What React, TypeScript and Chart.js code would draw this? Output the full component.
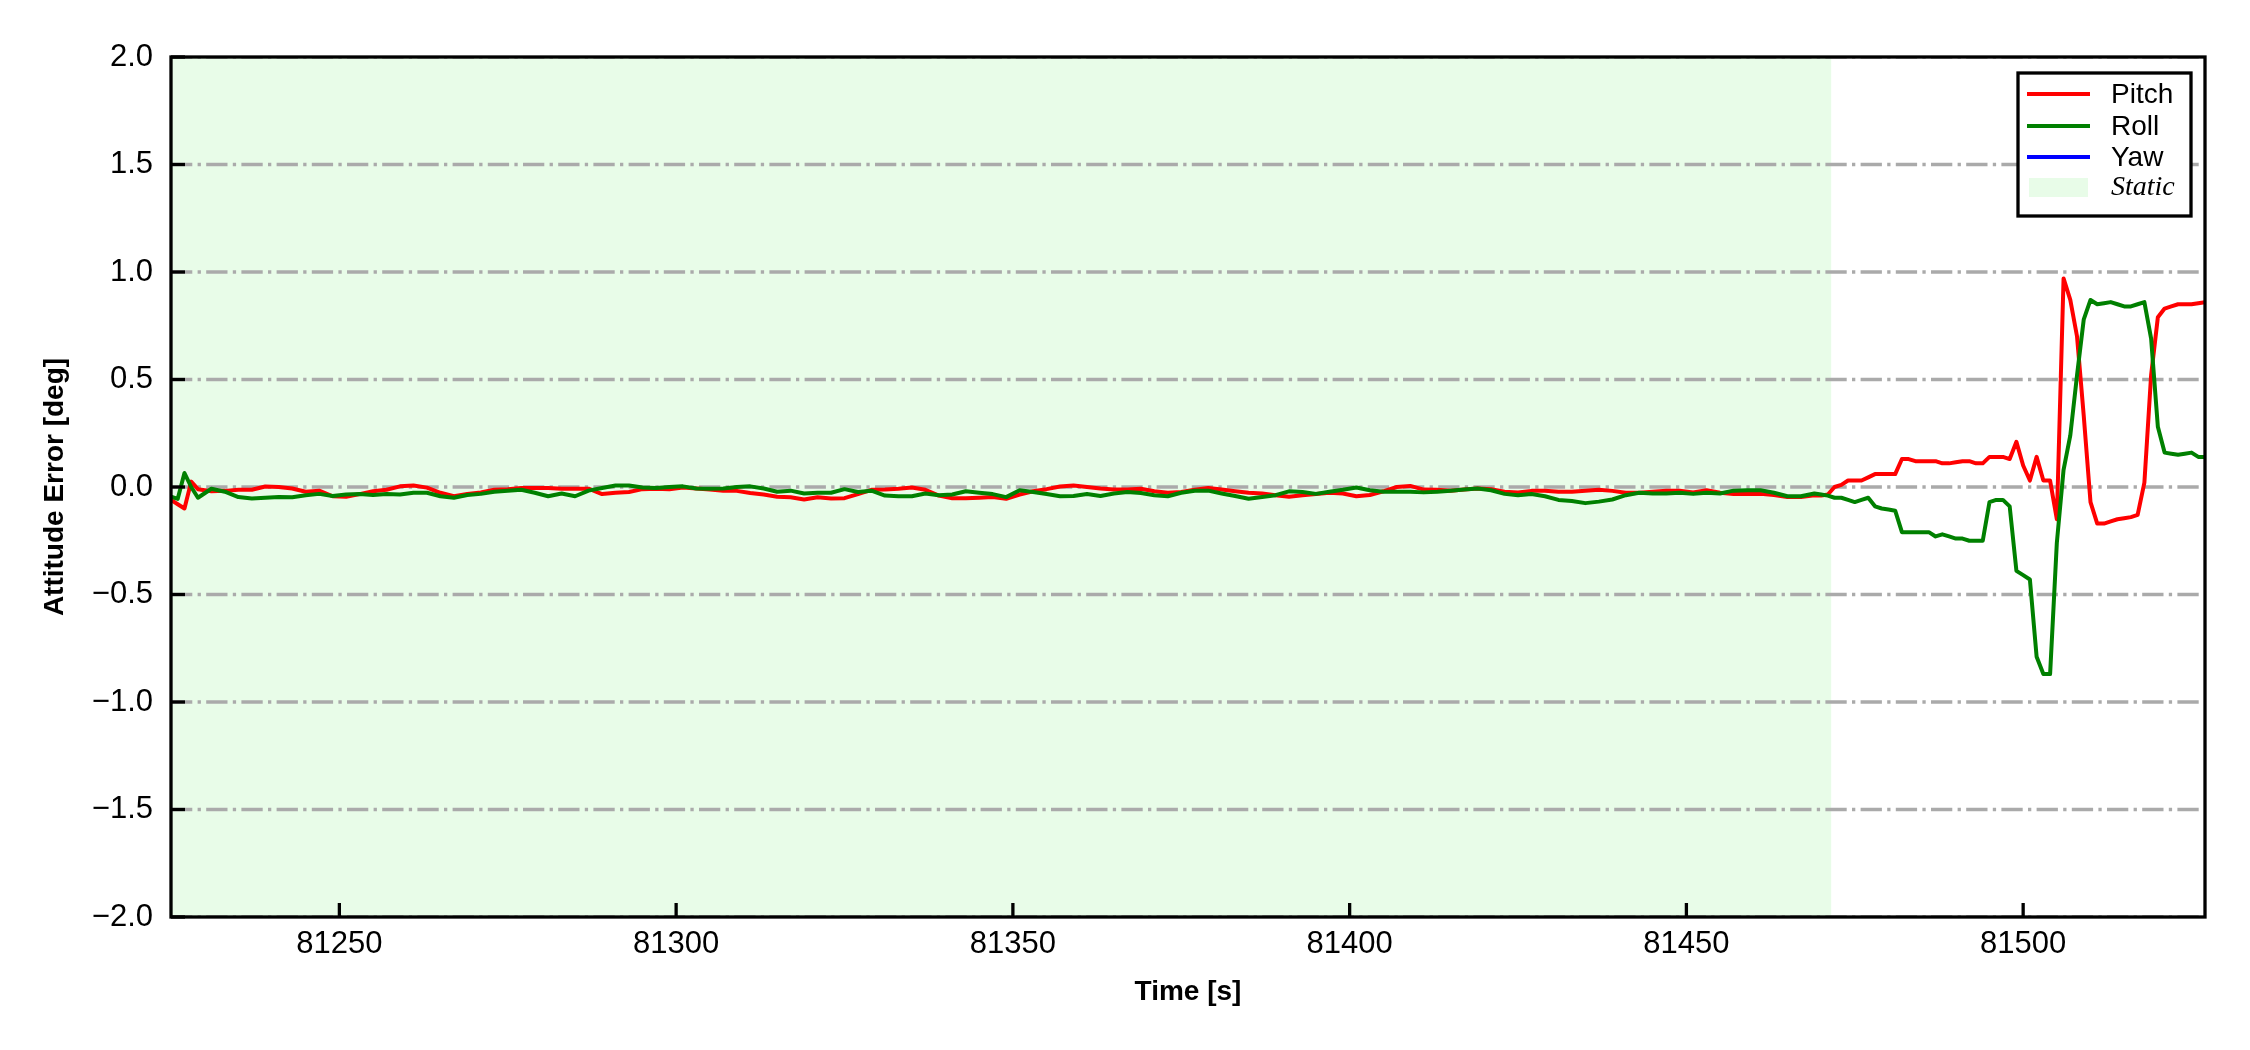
import React, { useEffect, useRef } from "react";
import { Chart, registerables } from "chart.js";

Chart.register(...registerables);

// ---------- data ----------
const X_MIN = 81225;
const X_MAX = 81527;
const X_TICKS = [81250, 81300, 81350, 81400, 81450, 81500];
const Y_TICKS = [-2.0, -1.5, -1.0, -0.5, 0.0, 0.5, 1.0, 1.5, 2.0];
const STATIC_START = 81225;
const STATIC_END = 81471.5;

const SERIES_NAMES = ["Pitch", "Roll", "Yaw"];
const STATIC_LABEL = "Static";

// segment 1: 1 s sampling from 81225
const START_T0 = 81225;
const START_DT = 1;
const PITCH_START = [-0.06, -0.08, -0.1, 0.025, -0.01];
const ROLL_START = [-0.045, -0.055, 0.065, 0.0, -0.05];

// segment 2: 2 s sampling from 81231 (static period)
const STATIC_T0 = 81231;
const STATIC_DT = 2;
const PITCH_STATIC = [
  -0.02, -0.018, -0.013, -0.013, 0.002, 0.0, -0.007, -0.022, -0.017, -0.043,
  -0.045, -0.033, -0.02, -0.013, 0.003, 0.007, -0.003, -0.027, -0.043, -0.032,
  -0.025, -0.013, -0.01, -0.005, -0.005, -0.005, -0.008, -0.008, -0.008, -0.033,
  -0.027, -0.023, -0.01, -0.008, -0.01, -0.002, -0.007, -0.012, -0.018, -0.018,
  -0.028, -0.035, -0.045, -0.048, -0.058, -0.048, -0.053, -0.052, -0.033, -0.013,
  -0.012, -0.008, -0.002, -0.013, -0.04, -0.052, -0.052, -0.05, -0.047, -0.055,
  -0.035, -0.02, -0.01, 0.002, 0.007, 0.0, -0.007, -0.012, -0.012, -0.008,
  -0.02, -0.027, -0.023, -0.013, -0.005, -0.012, -0.02, -0.027, -0.03, -0.038,
  -0.045, -0.038, -0.033, -0.027, -0.03, -0.043, -0.037, -0.02, 0.0, 0.005,
  -0.012, -0.013, -0.017, -0.012, -0.007, -0.01, -0.022, -0.025, -0.018, -0.017,
  -0.022, -0.022, -0.017, -0.013, -0.018, -0.027, -0.027, -0.022, -0.017, -0.017,
  -0.025, -0.015, -0.027, -0.033, -0.033, -0.032, -0.037, -0.047, -0.047, -0.038,
];
const ROLL_STATIC = [
  -0.008, -0.022, -0.047, -0.053, -0.05, -0.047, -0.048, -0.038, -0.032, -0.042,
  -0.035, -0.033, -0.037, -0.033, -0.035, -0.027, -0.027, -0.043, -0.05, -0.037,
  -0.032, -0.022, -0.017, -0.013, -0.027, -0.043, -0.03, -0.043, -0.017, -0.005,
  0.007, 0.007, -0.002, -0.005, 0.0, 0.003, -0.007, -0.008, -0.007, 0.0,
  0.003, -0.007, -0.022, -0.017, -0.03, -0.027, -0.027, -0.01, -0.023, -0.017,
  -0.04, -0.043, -0.043, -0.03, -0.038, -0.035, -0.02, -0.027, -0.033, -0.047,
  -0.015, -0.023, -0.033, -0.043, -0.042, -0.033, -0.042, -0.03, -0.023, -0.028,
  -0.038, -0.043, -0.027, -0.017, -0.017, -0.03, -0.042, -0.055, -0.047, -0.038,
  -0.02, -0.023, -0.032, -0.022, -0.013, -0.002, -0.015, -0.022, -0.022, -0.022,
  -0.025, -0.022, -0.017, -0.012, -0.007, -0.015, -0.032, -0.038, -0.033, -0.043,
  -0.06, -0.065, -0.075, -0.068, -0.058, -0.038, -0.027, -0.03, -0.03, -0.027,
  -0.032, -0.027, -0.03, -0.017, -0.015, -0.015, -0.027, -0.043, -0.043, -0.03,
];

// segment 3: 1 s sampling from 81470 (motion)
const MOTION_T0 = 81470;
const MOTION_DT = 1;
const PITCH_MOTION = [
  -0.04, -0.035, 0.0, 0.01, 0.03, 0.03, 0.03, 0.045, 0.06, 0.06,
  0.06, 0.06, 0.13, 0.13, 0.12, 0.12, 0.12, 0.12, 0.11, 0.11,
  0.115, 0.12, 0.12, 0.11, 0.11, 0.14, 0.14, 0.14, 0.13, 0.21,
  0.1, 0.03, 0.14, 0.03, 0.03, -0.15, 0.97, 0.87, 0.7, 0.33,
  -0.07, -0.17, -0.17, -0.16, -0.15, -0.145, -0.14, -0.13, 0.02, 0.52,
  0.79, 0.83, 0.84, 0.85, 0.85, 0.85, 0.855, 0.86,
];
const ROLL_MOTION = [
  -0.035, -0.04, -0.05, -0.05, -0.06, -0.07, -0.06, -0.05, -0.09, -0.1,
  -0.105, -0.11, -0.21, -0.21, -0.21, -0.21, -0.21, -0.23, -0.22, -0.23,
  -0.24, -0.24, -0.25, -0.25, -0.25, -0.07, -0.06, -0.06, -0.09, -0.39,
  -0.41, -0.43, -0.79, -0.87, -0.87, -0.26, 0.08, 0.24, 0.52, 0.78,
  0.87, 0.85, 0.855, 0.86, 0.85, 0.84, 0.84, 0.85, 0.86, 0.69,
  0.28, 0.16, 0.155, 0.15, 0.155, 0.16, 0.14, 0.14,
];
const YAW_VALUES: number[] = [];

// ---------- helpers ----------
type Pt = { x: number; y: number };
function seg(t0: number, dt: number, vals: number[]): Pt[] {
  return vals.map((v, i) => ({ x: t0 + i * dt, y: v }));
}

const PITCH_COLOR = "#ff0000";
const ROLL_COLOR = "#008000";
const YAW_COLOR = "#0000ff";
const STATIC_COLOR = "rgb(232, 252, 232)";
const SANS = "'Liberation Sans', Arial, sans-serif";
const SERIF = "'Liberation Serif', 'Times New Roman', serif";

const decorPlugin = {
  id: "decor",
  beforeDraw(chart: any) {
    const { ctx, chartArea: a, scales } = chart;
    const xs = scales.x;
    ctx.save();
    ctx.fillStyle = "#ffffff";
    ctx.fillRect(0, 0, chart.width, chart.height);
    const x0 = Math.max(a.left, xs.getPixelForValue(STATIC_START));
    const x1 = Math.min(a.right, xs.getPixelForValue(STATIC_END));
    ctx.fillStyle = STATIC_COLOR;
    ctx.fillRect(x0, a.top, x1 - x0, a.bottom - a.top);
    ctx.restore();
  },
  beforeDatasetsDraw(chart: any) {
    const { ctx, chartArea: a, scales } = chart;
    const ys = scales.y;
    ctx.save();
    ctx.beginPath();
    ctx.rect(a.left, a.top, a.right - a.left, a.bottom - a.top);
    ctx.clip();
    ctx.strokeStyle = "#aaaaaa";
    ctx.lineWidth = 3.3;
    ctx.setLineDash([21.3, 5.3, 3.3, 5.3]);
    for (const v of Y_TICKS) {
      const y = ys.getPixelForValue(v);
      ctx.beginPath();
      ctx.moveTo(a.left, y);
      ctx.lineTo(a.right, y);
      ctx.stroke();
    }
    ctx.restore();
  },
  afterDatasetsDraw(chart: any) {
    const { ctx, chartArea: a, scales } = chart;
    const xs = scales.x;
    const ys = scales.y;
    ctx.save();
    ctx.strokeStyle = "#000000";
    ctx.lineWidth = 3.3;
    ctx.setLineDash([]);
    const tl = 14;
    for (const v of Y_TICKS) {
      const y = ys.getPixelForValue(v);
      ctx.beginPath();
      ctx.moveTo(a.left, y);
      ctx.lineTo(a.left + tl, y);
      ctx.stroke();
    }
    for (const v of X_TICKS) {
      const x = xs.getPixelForValue(v);
      ctx.beginPath();
      ctx.moveTo(x, a.bottom);
      ctx.lineTo(x, a.bottom - tl);
      ctx.stroke();
    }
    ctx.strokeRect(a.left, a.top, a.right - a.left, a.bottom - a.top);
    ctx.restore();
  },
  afterDraw(chart: any) {
    const { ctx } = chart;
    ctx.save();
    // legend frame
    const bx = 2018, by = 73, bw = 173, bh = 143;
    ctx.fillStyle = "#ffffff";
    ctx.fillRect(bx, by, bw, bh);
    ctx.strokeStyle = "#000000";
    ctx.lineWidth = 3.3;
    ctx.strokeRect(bx, by, bw, bh);
    const lx0 = 2027, lx1 = 2090, tx = 2111;
    const rows = [94, 126, 157, 187];
    const cols = [PITCH_COLOR, ROLL_COLOR, YAW_COLOR];
    ctx.lineWidth = 4;
    for (let i = 0; i < 3; i++) {
      ctx.strokeStyle = cols[i];
      ctx.beginPath();
      ctx.moveTo(lx0, rows[i]);
      ctx.lineTo(lx1, rows[i]);
      ctx.stroke();
    }
    ctx.fillStyle = STATIC_COLOR;
    ctx.fillRect(2029, 178, 59, 19);
    ctx.fillStyle = "#000000";
    ctx.textAlign = "left";
    ctx.textBaseline = "middle";
    ctx.font = `28px ${SANS}`;
    for (let i = 0; i < 3; i++) ctx.fillText(SERIES_NAMES[i], tx, rows[i] + 1);
    ctx.font = `italic 28px ${SERIF}`;
    ctx.fillText(STATIC_LABEL, tx, rows[3] + 1);
    ctx.restore();
  },
};

export default function App() {
  const ref = useRef<HTMLCanvasElement | null>(null);
  useEffect(() => {
    if (!ref.current) return;
    const pitch = [
      ...seg(START_T0, START_DT, PITCH_START),
      ...seg(STATIC_T0, STATIC_DT, PITCH_STATIC),
      ...seg(MOTION_T0, MOTION_DT, PITCH_MOTION),
    ];
    const roll = [
      ...seg(START_T0, START_DT, ROLL_START),
      ...seg(STATIC_T0, STATIC_DT, ROLL_STATIC),
      ...seg(MOTION_T0, MOTION_DT, ROLL_MOTION),
    ];
    const yaw = seg(START_T0, 1, YAW_VALUES);
    const lineCommon = {
      borderWidth: 4,
      pointRadius: 0,
      pointHoverRadius: 0,
      fill: false,
      tension: 0,
      borderJoinStyle: "round" as const,
    };
    const chart = new Chart(ref.current, {
      type: "line",
      data: {
        datasets: [
          { label: SERIES_NAMES[0], data: pitch, borderColor: PITCH_COLOR, order: 2, ...lineCommon },
          { label: SERIES_NAMES[1], data: roll, borderColor: ROLL_COLOR, order: 1, ...lineCommon },
          { label: SERIES_NAMES[2], data: yaw, borderColor: YAW_COLOR, order: 3, ...lineCommon },
        ],
      },
      plugins: [decorPlugin],
      options: {
        animation: false,
        responsive: false,
        devicePixelRatio: 1,
        events: [],
        layout: { padding: { left: 0, right: 45, top: 57, bottom: 0 } },
        plugins: {
          legend: { display: false },
          tooltip: { enabled: false },
          title: { display: false },
        },
        scales: {
          x: {
            type: "linear",
            min: X_MIN,
            max: X_MAX,
            grid: { display: false, drawTicks: false },
            border: { display: false },
            afterBuildTicks: (s: any) => {
              s.ticks = X_TICKS.map((v) => ({ value: v }));
            },
            afterFit: (s: any) => {
              s.height = 133;
            },
            ticks: {
              color: "#000000",
              font: { family: SANS, size: 31 },
              padding: 9,
              maxRotation: 0,
              autoSkip: false,
              callback: (v: any) => String(v),
            },
            title: {
              display: true,
              text: "Time [s]",
              color: "#000000",
              font: { family: SANS, size: 28, weight: "bold" },
              padding: { top: 0, bottom: 41 },
            },
          },
          y: {
            type: "linear",
            min: -2,
            max: 2,
            grid: { display: false, drawTicks: false },
            border: { display: false },
            afterBuildTicks: (s: any) => {
              s.ticks = Y_TICKS.map((v) => ({ value: v }));
            },
            afterFit: (s: any) => {
              s.width = 171;
            },
            ticks: {
              color: "#000000",
              font: { family: SANS, size: 31 },
              padding: 18,
              autoSkip: false,
              callback: (v: any) => Number(v).toFixed(1).replace("-", "\u2212"),
            },
            title: {
              display: true,
              text: "Attitude Error [deg]",
              color: "#000000",
              font: { family: SANS, size: 28, weight: "bold" },
              padding: { top: 38, bottom: 0 },
            },
          },
        },
      } as any,
    });
    return () => chart.destroy();
  }, []);
  return (
    <div style={{ position: "fixed", left: 0, top: 0, width: 2250, height: 1050, background: "#ffffff" }}>
      <canvas ref={ref} width={2250} height={1050} style={{ display: "block", width: 2250, height: 1050 }} />
    </div>
  );
}
